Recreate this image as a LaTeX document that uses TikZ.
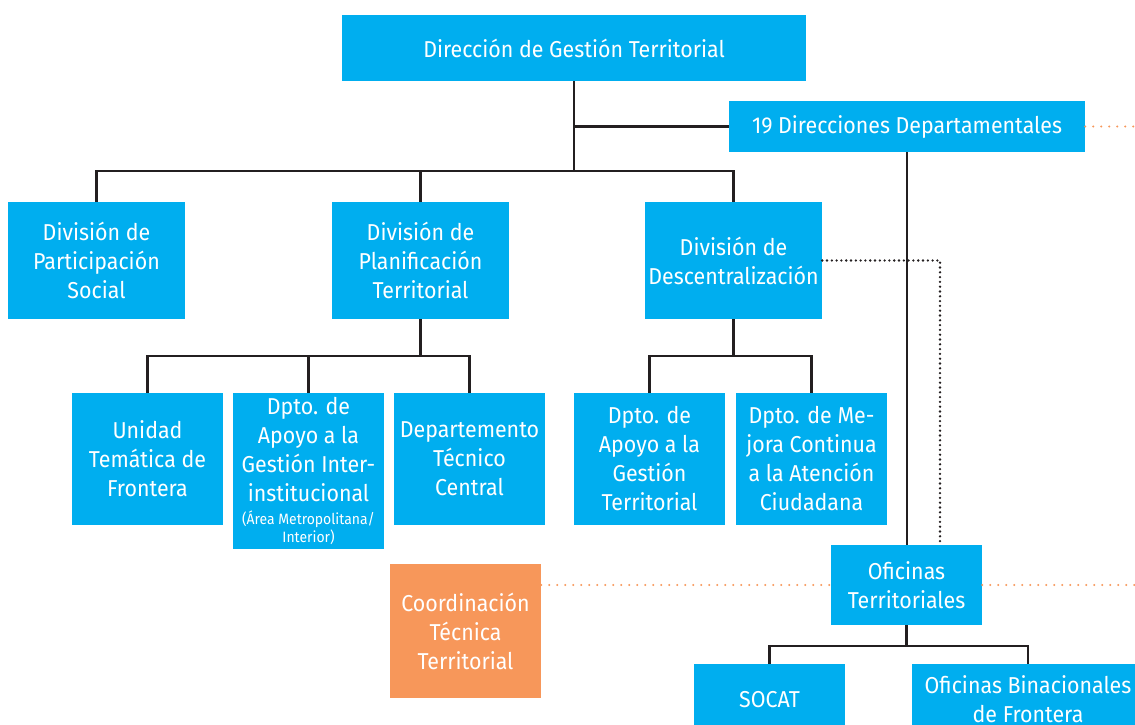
\documentclass[tikz,border=0pt]{standalone}
\usepackage{fontspec}
\setmainfont{Fira Sans}[FakeStretch=0.93]
\usetikzlibrary{positioning}
\definecolor{dgtBlue}{HTML}{00AEEF}
\definecolor{dgtOrange}{HTML}{F7975A}
\definecolor{dgtLine}{HTML}{231F20}

\begin{document}
\begin{tikzpicture}[
  x=1pt, y=-1pt,
  font=\fontsize{23}{29}\selectfont,
  unit/.style={fill=#1, text=white, inner sep=0pt, align=center},
  unit/.default=dgtBlue,
  division/.style={unit, minimum width=177pt, minimum height=117pt},
  dept/.style={unit, minimum width=151pt, minimum height=132pt},
  link/.style={draw=dgtLine, line width=2.4pt},
  blackdots/.style={draw=dgtLine, line width=2.6pt, line cap=round, dash pattern=on 0pt off 4.8pt},
  orangedots/.style={draw=dgtOrange, line width=2.2pt, line cap=round, dash pattern=on 0pt off 8pt},
]
\useasboundingbox (0,0) rectangle (1135,724);
% bus levels and edges
\coordinate (busA) at (0,171);
\coordinate (busB) at (0,356);
\coordinate (busC) at (0,646);
\coordinate (dotx) at (940,0);
\coordinate (rim) at (1135,0);

\node[unit, minimum width=464pt, minimum height=66pt] (dgt) at (574,48) {Dirección de Gestión Territorial};
\node[unit, minimum width=356pt, minimum height=51pt] (ddep) at (907,126.5) {19 Direcciones Departamentales};

\node[division] (dps) at (96.5,260.5) {División de\\Participación\\Social};
\node[division] (dpt) at (420.5,260.5) {División de\\Planificación\\Territorial};
\node[division] (ddesc) at (733.5,260.5) {División de\\Descentralización};

\node[dept] (ut) at (147.5,459) {Unidad\\Temática de\\Frontera};
\node[dept, minimum height=156pt] (dai) at (308.5,471) {Dpto. de\\Apoyo a la\\Gestión Inter-\\institucional\\[-6pt]{\fontsize{15}{18}\selectfont (Área Metropolitana/}\\[-11pt]{\fontsize{15}{18}\selectfont Interior)}};
\node[dept] (dtc) at (469.5,459) {Departemento\\Técnico\\Central};
\node[dept] (dag) at (649.5,459) {Dpto. de\\Apoyo a la\\Gestión\\Territorial};
\node[dept] (dmc) at (811.5,459) {Dpto. de Me-\\jora Continua\\a la Atención\\Ciudadana};

\node[unit, minimum width=151pt, minimum height=80pt] (ot) at (906.5,585) {Oficinas\\Territoriales};
\node[unit=dgtOrange, minimum width=151pt, minimum height=134pt] (ctt) at (465.5,631) {Coordinación\\Técnica\\Territorial};

\node[unit, minimum width=151pt, minimum height=72pt] (socat) at (769.5,700) {SOCAT};
\node[unit, minimum width=232pt, minimum height=70pt] (ob) at (1028,699) {Oficinas Binacionales\\de Frontera};

% solid links
\draw[link] (dgt.south) -- (dgt.south |- busA);
\draw[link] (dgt.south |- ddep.west) -- (ddep.west);
\draw[link] (dps.north) |- (ddesc.north |- busA) -- (ddesc.north);
\draw[link] (dpt.north) -- (dpt.north |- busA);
\draw[link] (ut.north) |- (dtc.north |- busB) -- (dtc.north);
\draw[link] (dpt.south) -- (dpt.south |- busB);
\draw[link] (dai.north) -- (dai.north |- busB);
\draw[link] (dag.north) |- (dmc.north |- busB) -- (dmc.north);
\draw[link] (ddesc.south) -- (ddesc.south |- busB);
\draw[link] (ddep.south) -- (ddep.south |- ot.north);
\draw[link] (socat.north) |- (ob.north |- busC) -- (ob.north);
\draw[link] (ot.south) -- (ot.south |- busC);

% dotted links
\draw[blackdots] (ddesc.east) -| (dotx |- ot.north);
\draw[orangedots] (ddep.east) -- (ddep.east -| rim);
\draw[orangedots] (ctt.east |- ot.west) -- (ot.west);
\draw[orangedots] (ot.east) -- (ot.east -| rim);
\end{tikzpicture}
\end{document}
